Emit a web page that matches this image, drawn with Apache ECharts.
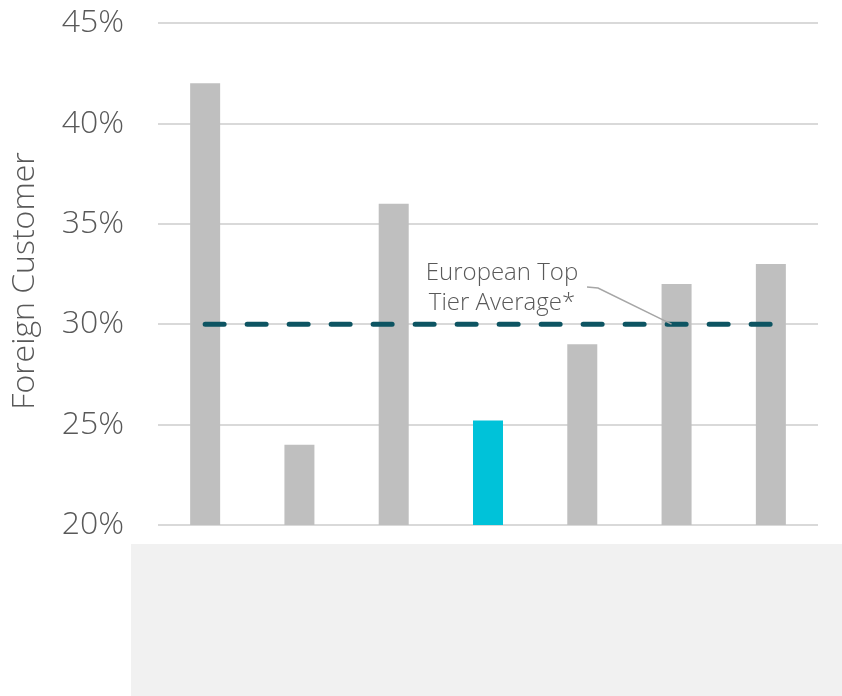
<!DOCTYPE html>
<html>
<head>
<meta charset="utf-8">
<script src="https://cdn.jsdelivr.net/npm/echarts@6/dist/echarts.min.js"></script>
<style>
  html, body { margin: 0; padding: 0; background: #fff; }
  #chart { width: 842px; height: 696px; }
</style>
</head>
<body>
<div id="chart"></div>
<script>
// categories are unlabelled in the reference
var categories = ["A", "B", "C", "D", "E", "F", "G"];
var shareValues = [42.0, 24.0, 36.0, 25.2, 29.0, 32.0, 33.0];
var highlightIndex = 3;
var averageValue = 30;
var averageLine = categories.map(function () { return averageValue; });
var yTicks = { min: 20, max: 45, interval: 5 };

var textColor = "#595959";
var fontFam = "'Open Sans', 'Noto Sans', sans-serif";

var chart = echarts.init(document.getElementById("chart"));

var option = {
  animation: false,
  grid: { left: 158, right: 24, top: 23, bottom: 171 },
  xAxis: {
    type: "category",
    data: categories,
    axisLine: { show: false },
    axisTick: { show: false },
    axisLabel: { show: false },
    splitLine: { show: false }
  },
  yAxis: {
    type: "value",
    min: yTicks.min,
    max: yTicks.max,
    interval: yTicks.interval,
    name: "Foreign Customer",
    nameLocation: "middle",
    nameGap: 117,
    nameTextStyle: {
      fontSize: 32,
      color: textColor,
      fontFamily: fontFam,
      fontWeight: 300,
      padding: [0, 14, 0, 0]
    },
    axisLine: { show: false },
    axisTick: { show: false },
    axisLabel: {
      formatter: "{value}%",
      fontSize: 32,
      color: textColor,
      margin: 34,
      fontFamily: fontFam,
      fontWeight: 300
    },
    splitLine: { lineStyle: { color: "#d9d9d9", width: 2 } }
  },
  series: [
    {
      type: "bar",
      barWidth: 30,
      data: shareValues.map(function (v, i) {
        return {
          value: v,
          itemStyle: { color: i === highlightIndex ? "#00c2d9" : "#bfbfbf" }
        };
      }),
      z: 2
    },
    {
      type: "line",
      data: averageLine,
      symbol: "none",
      lineStyle: { color: "#0d5462", width: 5, type: [19, 23], cap: "round" },
      z: 3
    }
  ]
};

chart.setOption(option);

// annotation for the average line
var anchor = chart.convertToPixel({ seriesIndex: 1 }, [5, averageValue]);
var textX = 502;
chart.setOption({
  graphic: [
    {
      type: "rect",
      shape: { x: 131, y: 544, width: 711, height: 152 },
      style: { fill: "#f1f1f1" },
      silent: true,
      z: 0
    },
    {
      type: "text",
      x: textX,
      y: 258,
      style: {
        text: "European Top\nTier Average*",
        fill: textColor,
        fontSize: 24,
        lineHeight: 30,
        fontFamily: fontFam,
        fontWeight: 300,
        align: "center"
      },
      z: 10
    },
    {
      type: "polyline",
      shape: { points: [[587, 287], [598, 288], [anchor[0] - 5, anchor[1]]] },
      style: { stroke: "#a6a6a6", lineWidth: 1.5, fill: null },
      z: 10
    }
  ]
});
</script>
</body>
</html>
